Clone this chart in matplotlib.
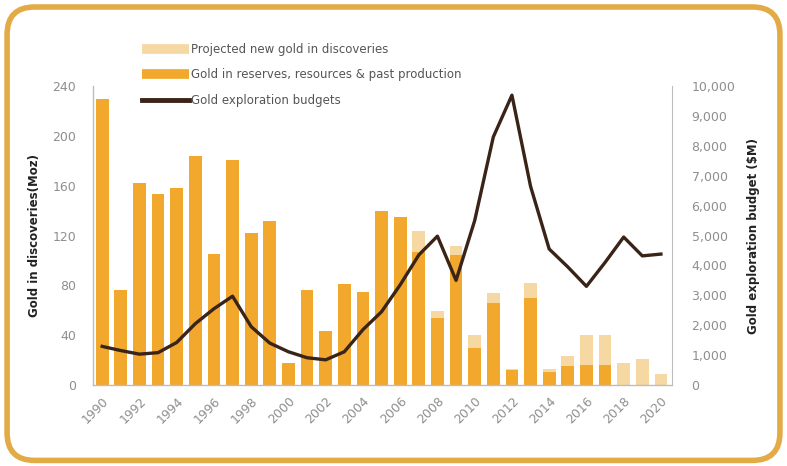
import numpy as np
import matplotlib.pyplot as plt
from matplotlib.lines import Line2D
from matplotlib.patches import FancyBboxPatch

years = list(range(1990, 2021))

# gold in reserves, resources & past production (Moz)
reserves = [230, 76, 162, 153, 158, 184, 105, 181, 122, 132,
            18, 76, 43, 81, 75, 140, 135, 107, 54, 104,
            30, 66, 12, 70, 10, 15, 16, 16, 0, 0, 0]
# projected new gold on top of the reserves (Moz)
projected = [0, 0, 0, 0, 0, 0, 0, 0, 0, 0,
             0, 0, 0, 0, 0, 0, 0, 17, 5, 8,
             10, 8, 1, 12, 3, 8, 24, 24, 18, 21, 9]
# gold exploration budgets ($M)
budgets = [1290, 1150, 1030, 1080, 1420, 2050, 2550, 2970, 1950, 1400,
           1110, 910, 840, 1110, 1850, 2450, 3350, 4350, 4980, 3500,
           5500, 8300, 9700, 6650, 4550, 3950, 3300, 4100, 4950, 4320, 4380]

orange = "#F2A82C"
pale = "#F6D8A2"
brown = "#3A2317"
grey = "#8E8E8E"

fig = plt.figure(figsize=(7.87, 4.66), dpi=100)
fig.patch.set_facecolor("white")

# rounded frame around the whole chart
frame = FancyBboxPatch((0.009, 0.012), 0.982, 0.973,
                       boxstyle="round,pad=0,rounding_size=0.035",
                       transform=fig.transFigure, facecolor="none",
                       edgecolor="#E3AB45", linewidth=4, zorder=5,
                       mutation_aspect=787 / 466)
fig.patches.append(frame)

ax = fig.add_axes([0.118, 0.174, 0.736, 0.641])
ax.set_facecolor("none")
ax.bar(years, reserves, width=0.68, color=orange, zorder=2)
ax.bar(years, projected, bottom=reserves, width=0.68, color=pale, zorder=2)

ax.set_xlim(1989.5, 2020.6)
ax.set_ylim(0, 240)
ax.set_yticks(range(0, 241, 40))
ax.set_xticks(range(1990, 2021, 2))
ax.tick_params(axis="both", length=0, colors=grey, labelsize=9)
ax.tick_params(axis="y", pad=12)
plt.setp(ax.get_xticklabels(), rotation=45, ha="right", rotation_mode="anchor")
ax.tick_params(axis="x", pad=7)
for s in ["top", "right"]:
    ax.spines[s].set_visible(False)
for s in ["left", "bottom"]:
    ax.spines[s].set_color("#BDBDBD")
    ax.spines[s].set_linewidth(1)
ax.set_ylabel("Gold in discoveries(Moz)", fontsize=8.5, fontweight="bold",
              color="#222222", labelpad=8)

ax2 = ax.twinx()
ax2.plot(years, budgets, color=brown, lw=2.4, zorder=3)
ax2.set_ylim(0, 10000)
ax2.set_yticks(range(0, 10001, 1000))
ax2.set_yticklabels([f"{v:,}" for v in range(0, 10001, 1000)])
ax2.tick_params(axis="y", length=0, colors=grey, labelsize=9, pad=14)
for s in ["top", "left", "bottom"]:
    ax2.spines[s].set_visible(False)
ax2.spines["right"].set_color("#BDBDBD")
ax2.set_ylabel("Gold exploration budget ($M)", fontsize=8.5, fontweight="bold",
               color="#222222", labelpad=8)

handles = [Line2D([], [], color=pale, lw=7, solid_capstyle="butt"),
           Line2D([], [], color=orange, lw=7, solid_capstyle="butt"),
           Line2D([], [], color=brown, lw=3.5)]
labels = ["Projected new gold in discoveries",
          "Gold in reserves, resources & past production",
          "Gold exploration budgets"]
leg = fig.legend(handles, labels, loc="upper left", bbox_to_anchor=(0.174, 0.918),
                 frameon=False, fontsize=8.5, handlelength=4.0, handletextpad=0.2,
                 labelspacing=1.05, borderaxespad=0)
for t in leg.get_texts():
    t.set_color("#555555")

fig.savefig("out.png", dpi=100)
